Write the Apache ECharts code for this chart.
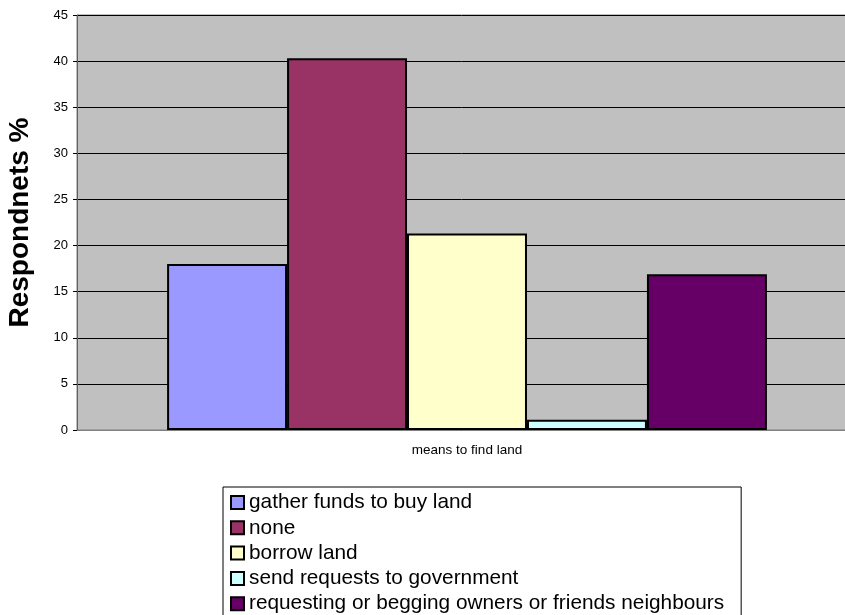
<!DOCTYPE html>
<html>
<head>
<meta charset="utf-8">
<script src="https://cdn.jsdelivr.net/npm/echarts@6/dist/echarts.min.js"></script>
<style>
  html, body { margin: 0; padding: 0; background: #fff; }
  #chart { width: 845px; height: 615px; }
</style>
</head>
<body>
<div id="chart"></div>
<script>
// categories and values
var categories = ['means to find land'];
var seriesNames = ['gather funds to buy land', 'none', 'borrow land', 'send requests to government', 'requesting or begging owners or friends neighbours'];
var seriesValues = [18.0, 40.3, 21.3, 1.1, 16.9];
var colors = ['#9999ff', '#993366', '#ffffcc', '#ccffff', '#660066'];

var chart = echarts.init(document.getElementById('chart'));

var series = [];
for (var i = 0; i < seriesNames.length; i++) {
  series.push({
    name: seriesNames[i],
    type: 'bar',
    data: [seriesValues[i]],
    barGap: 0,
    barCategoryGap: '23.1%',
    itemStyle: { color: colors[i], borderColor: '#000', borderWidth: 2 }
  });
}

var option = {
  animation: false,
  textStyle: { fontFamily: 'Liberation Sans, Arial, sans-serif' },
  grid: {
    left: 77, right: -12, top: 15, bottom: 185,
    outerBoundsMode: 'none',
    containLabel: false,
    show: true, backgroundColor: '#c0c0c0', borderColor: '#808080', borderWidth: 1
  },
  legend: {
    orient: 'vertical',
    left: 223, top: 487,
    height: 200,
    icon: 'rect',
    itemWidth: 13, itemHeight: 13, itemGap: 0.3,
    padding: [3, 17, 10, 7],
    borderColor: '#000', borderWidth: 1,
    textStyle: { fontSize: 20.8, lineHeight: 25, color: '#000' },
    data: seriesNames
  },
  xAxis: {
    type: 'category',
    data: categories,
    axisLine: { lineStyle: { color: '#808080' } },
    axisTick: { show: false },
    axisLabel: { fontSize: 13.5, color: '#000', margin: 13 }
  },
  yAxis: {
    type: 'value',
    min: 0, max: 45, interval: 5,
    name: 'Respondnets %',
    nameLocation: 'middle',
    nameGap: 43,
    nameTextStyle: { fontSize: 28, fontWeight: 'bold', color: '#000' },
    axisLine: { show: true, lineStyle: { color: '#606060' } },
    axisTick: { show: true, length: 4, lineStyle: { color: '#000' } },
    axisLabel: { fontSize: 13, color: '#000', margin: 9 },
    splitLine: { lineStyle: { color: '#000', width: 1 } }
  },
  series: series
};

chart.setOption(option);
</script>
</body>
</html>
